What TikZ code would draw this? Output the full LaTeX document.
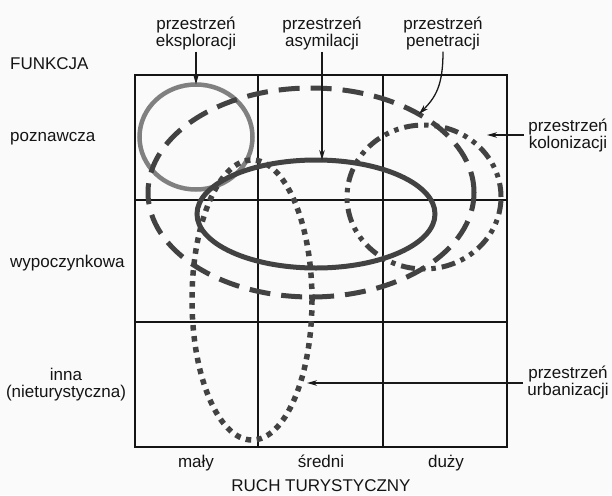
\documentclass[tikz,border=0pt]{standalone}
\usepackage{fontspec}
\setmainfont{Liberation Sans}
\usetikzlibrary{shapes.geometric,arrows.meta}
\begin{document}
\begin{tikzpicture}[x=1pt,y=-1pt,
  lbl/.style={font=\fontsize{17}{17}\selectfont, inner sep=1pt, text=black!92, align=center},
  gridline/.style={draw=black!92, line width=1.5pt},
  ell/.style={ellipse, inner sep=0pt, outer sep=0pt, line width=5pt, draw=black!74},
  ptr/.style={draw=black!90, line width=1.3pt, -{Stealth[length=10pt,width=5.5pt]}},
]
\fill[black!2] (0,0) rectangle (612,495);
\useasboundingbox (0,0) rectangle (612,495);

% grid
\draw[gridline] (135,75) rectangle (507,447);
\draw[gridline] (258,75) -- (258,447);
\draw[gridline] (383,75) -- (383,447);
\draw[gridline] (135,200) -- (507,200);
\draw[gridline] (135,322) -- (507,322);

% spaces
\node[ell, draw=black!50, line width=4.5pt, minimum width=113pt, minimum height=105pt] (expl) at (196,137) {};
\node[ell, dash pattern=on 21pt off 11pt, minimum width=326pt, minimum height=209pt] (pen) at (311,192.5) {};
\node[ell, dash pattern=on 5.5pt off 5.5pt, line width=5.5pt, minimum width=120pt, minimum height=280pt] (urb) at (252,300) {};
\node[ell, dash pattern=on 14pt off 6pt on 4.5pt off 6pt on 4.5pt off 6pt, minimum width=154pt, minimum height=144pt] (kol) at (424,197) {};
\node[ell, minimum width=238pt, minimum height=108pt] (asym) at (316,214) {};

% labels
\node[lbl] (lEks) at (196,34) {przestrzeń\\eksploracji};
\node[lbl] (lAsy) at (322,34) {przestrzeń\\asymilacji};
\node[lbl] (lPen) at (443,34) {przestrzeń\\penetracji};
\node[lbl] (lKol) at (568,136) {przestrzeń\\kolonizacji};
\node[lbl] (lUrb) at (568,382) {przestrzeń\\urbanizacji};

\node[lbl, anchor=base west] (fun) at (9,69) {FUNKCJA};
\node[lbl, anchor=base west] (pozn) at (9,141) {poznawcza};
\node[lbl, anchor=base west] (wyp) at (9,267) {wypoczynkowa};
\node[lbl] (inna) at (66,385) {inna\\(nieturystyczna)};

\node[lbl, anchor=base] (maly) at (196,467) {mały};
\node[lbl, anchor=base] (sred) at (321,467) {średni};
\node[lbl, anchor=base] (duzy) at (446,467) {duży};
\node[lbl, anchor=base] (ruch) at (321,491) {RUCH TURYSTYCZNY};

% pointers
\coordinate (kolTip) at (487,135);
\coordinate (urbTip) at (307,383);
\draw[ptr] (lEks.south) -- (expl.north);
\draw[ptr] (lAsy.south) -- (lAsy.south |- asym.north);
\draw[ptr] (lPen.south) .. controls (443,85) and (436,97) .. (pen.36);
\draw[ptr] ([xshift=-3pt]lKol.west |- kolTip) -- (kolTip);
\draw[ptr] ([xshift=-3pt]lUrb.west |- urbTip) -- (urbTip);
\end{tikzpicture}
\end{document}
